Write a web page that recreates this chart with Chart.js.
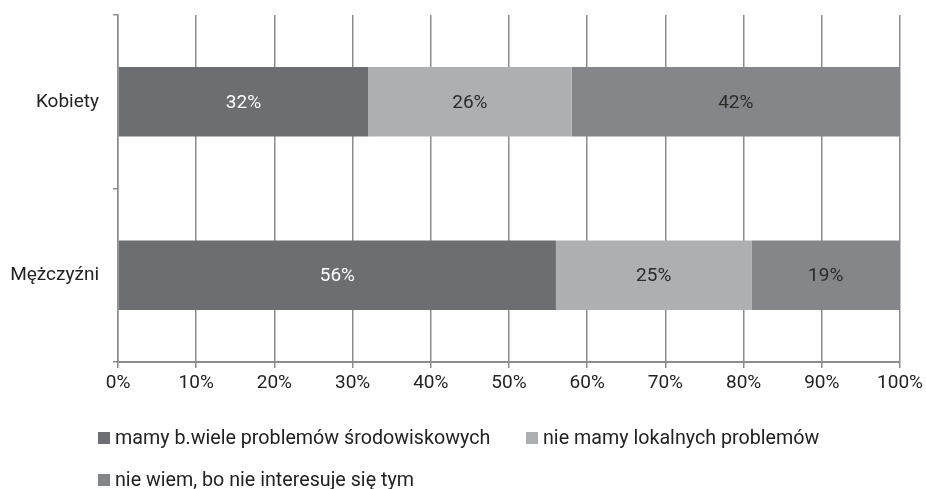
<!DOCTYPE html>
<html><head><meta charset="utf-8">
<script src="https://cdn.jsdelivr.net/npm/chart.js@4"></script>
<style>
html,body{margin:0;padding:0;background:#fff;}
#wrap{position:relative;width:926px;height:489px;}
canvas{position:absolute;left:0;top:0;}
.lg{position:absolute;font-family:Roboto,sans-serif;font-size:19.7px;color:#222;white-space:nowrap;line-height:22px;height:22px;display:flex;align-items:center;}
.lg span.b{display:inline-block;width:12px;height:12px;margin-right:5px;}
</style></head>
<body><div id="wrap"><canvas id="c" width="926" height="489"></canvas></div>
<script>
const categories = ["Kobiety", "Mężczyźni"];
const seriesNames = ["mamy b.wiele problemów środowiskowych", "nie mamy lokalnych problemów", "nie wiem, bo nie interesuje się tym"];
const seriesA = [32, 56];
const seriesB = [26, 25];
const seriesC = [42, 19];
const xTicks = [0,10,20,30,40,50,60,70,80,90,100];
const colors = ["#6d6e71", "#aeafb1", "#858689"];
const labelColors = ["#ffffff", "#2b2b2b", "#2b2b2b"];
const values = [seriesA, seriesB, seriesC];

const FONT = 'Roboto, sans-serif';
const FS = 19;
const gridColor = "#8c8c8c";

const labelPlugin = {
  id: 'segLabels',
  afterDatasetsDraw(chart) {
    const ctx = chart.ctx;
    ctx.save();
    ctx.font = FS + 'px ' + FONT;
    ctx.textAlign = 'center';
    ctx.textBaseline = 'middle';
    chart.data.datasets.forEach((ds, di) => {
      const meta = chart.getDatasetMeta(di);
      meta.data.forEach((el, i) => {
        const v = ds.data[i];
        const p = el.getProps(['x','y','base'], true);
        ctx.fillStyle = labelColors[di];
        ctx.fillText(v + '%', (p.x + p.base) / 2, p.y + 1);
      });
    });
    ctx.restore();
  }
};

new Chart(document.getElementById('c'), {
  type: 'bar',
  data: {
    labels: categories,
    datasets: values.map((v, i) => ({
      label: seriesNames[i],
      data: v,
      backgroundColor: colors[i],
      borderWidth: 0,
      barPercentage: 0.4,
      categoryPercentage: 1.0
    }))
  },
  options: {
    indexAxis: 'y',
    responsive: false,
    animation: false,
    layout: { padding: { left: 0, right: 26, top: 15, bottom: 0 } },
    plugins: { legend: { display: false }, tooltip: { enabled: false } },
    scales: {
      x: {
        stacked: true,
        min: 0, max: 100,
        afterBuildTicks(s) { s.ticks = xTicks.map(v => ({ value: v })); },
        afterFit(s) { s.height = 127; s.paddingLeft = 0; s.paddingRight = 0; },
        grid: { color: gridColor, lineWidth: 1.5, tickLength: 6, drawOnChartArea: true },
        border: { color: gridColor, width: 2 },
        ticks: { color: '#222', font: { family: FONT, size: FS }, padding: 4,
                 callback: v => v + '%', maxRotation: 0 }
      },
      y: {
        stacked: true,
        afterFit(s) { s.width = 118; s.paddingTop = 0; s.paddingBottom = 0; },
        grid: { color: gridColor, lineWidth: 1.5, tickLength: 5, drawOnChartArea: false, offset: true },
        border: { color: gridColor, width: 1.5 },
        ticks: { color: '#222', font: { family: FONT, size: FS }, padding: 14 }
      }
    }
  },
  plugins: [labelPlugin]
});

// legend built from the series names
const legendPos = [[98, 427], [526, 427], [98, 469]];
seriesNames.forEach((n, i) => {
  const d = document.createElement('div');
  d.className = 'lg';
  d.style.left = legendPos[i][0] + 'px';
  d.style.top = legendPos[i][1] + 'px';
  const b = document.createElement('span');
  b.className = 'b';
  b.style.background = colors[i];
  d.appendChild(b);
  d.appendChild(document.createTextNode(n));
  document.getElementById('wrap').appendChild(d);
});
</script></body></html>
